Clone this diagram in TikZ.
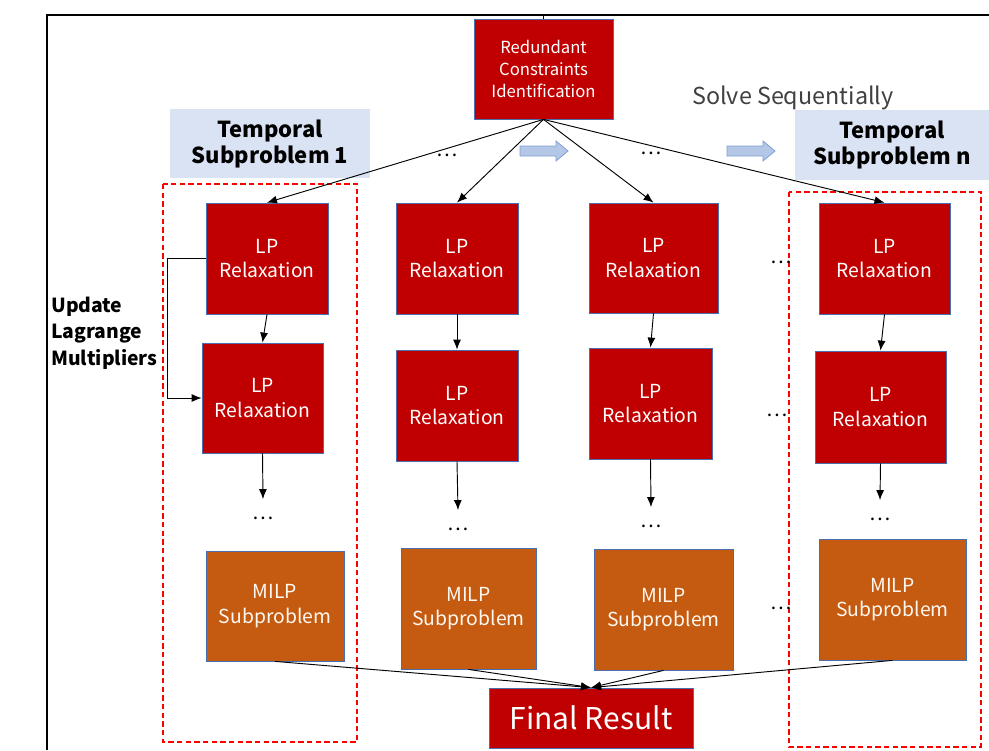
\documentclass[tikz,border=0pt]{standalone}
\usepackage{fontspec}
\setmainfont{Noto Sans CJK SC}
\usetikzlibrary{arrows.meta}
\definecolor{dkred}{HTML}{C00000}
\definecolor{orng}{HTML}{C55A11}
\definecolor{lblue}{HTML}{DAE3F3}
\definecolor{arrblue}{HTML}{B4C7E7}
\definecolor{arrblueb}{HTML}{7F9FD3}
\definecolor{bordb}{HTML}{4A6FB0}
\definecolor{txtgray}{HTML}{404040}
\tikzset{
  redbox/.style={draw=bordb, line width=0.6pt, fill=dkred, text=white, align=center, inner sep=0pt,
    font=\fontsize{14.5}{18.5}\selectfont},
  milpbox/.style={draw=bordb, line width=0.6pt, fill=orng, text=white!95!orange, align=center, inner sep=0pt,
    font=\fontsize{14.5}{18.5}\selectfont},
  tlabel/.style={fill=lblue, align=center, inner sep=0pt, font=\fontsize{16.5}{19.5}\selectfont\bfseries},
  dotnode/.style={inner sep=0pt, minimum height=28pt, font=\fontsize{15}{15}\selectfont},
  conn/.style={-{Latex[length=7.5pt,width=6pt]}, line width=0.7pt},
  dashbox/.style={draw=red, dashed, dash pattern=on 4pt off 2.5pt, line width=0.8pt},
  blockarr/.style={draw=arrblueb, fill=arrblue, line width=0.6pt}
}
\begin{document}
\begin{tikzpicture}[x=0.75pt, y=-0.75pt]
\useasboundingbox (0,0) rectangle (989,750);
% frame
\draw[line width=1.5pt] (47,750) -- (47,15) -- (989,15);
\coordinate (ftop) at (543.5,15);

% top box
\node[redbox, minimum width=104.25pt, minimum height=75pt, font=\fontsize{12.5}{16.5}\selectfont] (red) at (543.5,69) {Redundant\\Constraints\\Identification};
\draw[line width=0.7pt] (ftop) -- (red.north);

% labels
\node[tlabel, minimum width=150pt, minimum height=51.75pt] (t1) at (270,143.5) {Temporal\\Subproblem 1};
\node[tlabel, minimum width=145.5pt, minimum height=52.5pt] (tn) at (892,145) {Temporal\\Subproblem n};
\node[text=txtgray, font=\fontsize{17.5}{20}\selectfont, anchor=west, inner sep=0pt] (solve) at (692,98) {Solve Sequentially};
\node[anchor=west, align=left, inner sep=0pt, font=\fontsize{14.5}{20}\selectfont\bfseries] (upd) at (51,333) {Update\\Lagrange\\Multipliers};

% dashed groups
\draw[dashbox] (163,184) rectangle (357,742);
\draw[dashbox] (789,192) rectangle (981,747);

% block arrows
\draw[blockarr] (520,146) -- (556,146) -- (556,141) -- (568,151) -- (556,161) -- (556,156) -- (520,156) -- cycle;
\draw[blockarr] (727,146) -- (763,146) -- (763,141) -- (775,151) -- (763,161) -- (763,156) -- (727,156) -- cycle;

% column 1
\node[redbox, minimum width=91.5pt, minimum height=83.25pt] (lp11) at (267,258.5) {LP\\Relaxation};
\node[redbox, minimum width=90.75pt, minimum height=82.5pt] (lp12) at (262.5,398) {LP\\Relaxation};
\node[dotnode] (d1) at (263,518) {…};
\node[milpbox, minimum width=103.5pt, minimum height=82.5pt] (m1) at (275,606) {MILP\\Subproblem};
% column 2
\node[redbox, minimum width=91.5pt, minimum height=83.25pt] (lp21) at (457,258.5) {LP\\Relaxation};
\node[redbox, minimum width=91.5pt, minimum height=83.25pt] (lp22) at (457,405.5) {LP\\Relaxation};
\node[dotnode] (d2) at (458,529) {…};
\node[milpbox, minimum width=101.25pt, minimum height=90.75pt] (m2) at (468.5,608.5) {MILP\\Subproblem};
% column 3
\node[redbox, minimum width=96.75pt, minimum height=82.5pt] (lp31) at (653.5,258) {LP\\Relaxation};
\node[redbox, minimum width=92.25pt, minimum height=83.25pt] (lp32) at (650.5,403.5) {LP\\Relaxation};
\node[dotnode] (d3) at (651,526) {…};
\node[milpbox, minimum width=104.25pt, minimum height=90.75pt] (m3) at (663.5,609.5) {MILP\\Subproblem};
% column 4
\node[redbox, minimum width=98.25pt, minimum height=83.25pt] (lp41) at (884.5,258.5) {LP\\Relaxation};
\node[redbox, minimum width=98.25pt, minimum height=84pt] (lp42) at (880.5,407) {LP\\Relaxation};
\node[dotnode] (d4) at (880,519) {…};
\node[milpbox, minimum width=110.25pt, minimum height=90.75pt] (m4) at (892.5,599.5) {MILP\\Subproblem};

% final
\node[redbox, minimum width=153pt, minimum height=45pt, font=\fontsize{22.5}{24}\selectfont] (fin) at (591,718) {Final Result};

% free dots
\node[dotnode] (dt1) at (447,155) {…};
\node[dotnode] (dt2) at (651,153) {…};
\node[dotnode] (dh1) at (781,262) {…};
\node[dotnode] (dh2) at (777,415) {…};
\node[dotnode] (dh3) at (781,608) {…};

% connectors
\foreach \t in {lp11,lp21,lp31,lp41} \draw[conn] (red.south) -- (\t.north);
\draw[conn] (lp11.south) -- (lp12.north);
\draw[conn] (lp21.south) -- (lp22.north);
\draw[conn] (lp31.south) -- (lp32.north);
\draw[conn] (lp41.south) -- (lp42.north);
\draw[conn] (lp12.south) -- (d1.north);
\draw[conn] (lp22.south) -- (d2.north);
\draw[conn] (lp32.south) -- (d3.north);
\draw[conn] (lp42.south) -- (d4.north);
\draw[conn] (lp11.west) -- ++(-38,0) |- (lp12.west);
\foreach \m in {m1,m2,m3,m4} \draw[conn] (\m.south) -- (fin.north);
\end{tikzpicture}
\end{document}
